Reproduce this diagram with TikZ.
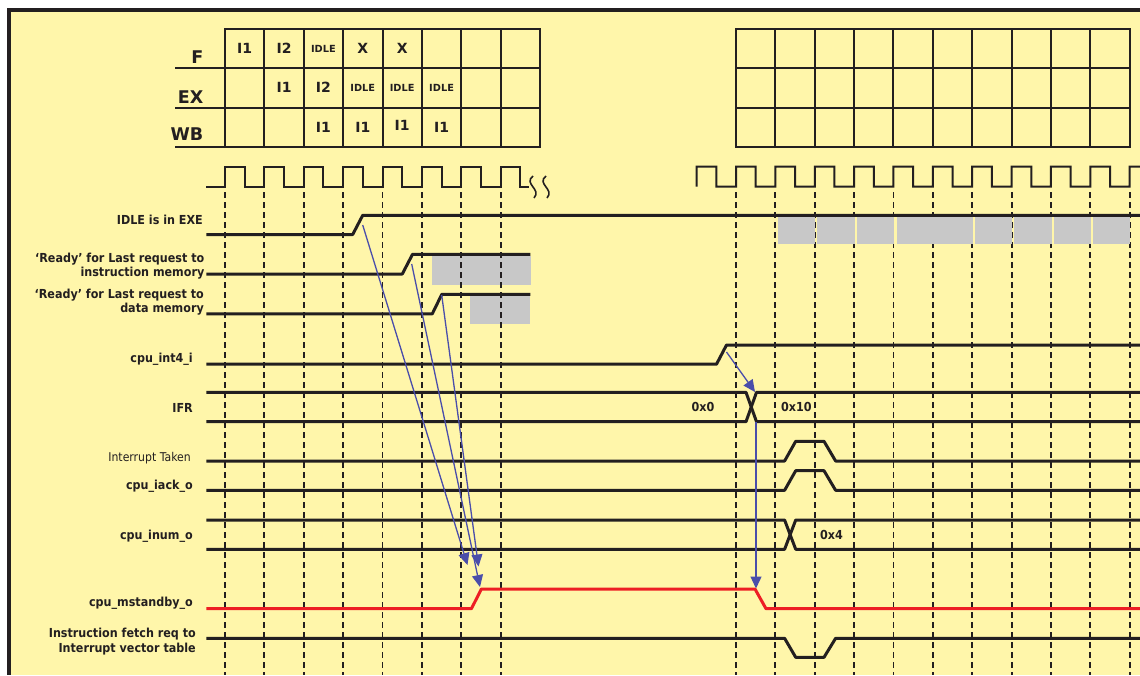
\documentclass[tikz,border=0pt]{standalone}
\usepackage{fontspec}
\setmainfont{DejaVu Sans}
\newfontfamily\lblfont[FakeStretch=0.9]{DejaVu Sans}
\usetikzlibrary{arrows.meta}
\definecolor{bg}{RGB}{255,246,170}
\definecolor{ink}{RGB}{35,31,32}
\definecolor{cueblue}{RGB}{74,78,170}
\definecolor{sigred}{RGB}{237,30,36}
\definecolor{shade}{RGB}{200,200,200}
\begin{document}
\begin{tikzpicture}[x=1pt,y=-1pt,
  sig/.style={draw=ink,line width=3pt,line join=round},
  redsig/.style={draw=sigred,line width=3pt,line join=round},
  gridln/.style={draw=ink,line width=2pt,line cap=rect},
  clk/.style={draw=ink,line width=2pt},
  tick/.style={draw=ink,line width=1.8pt,dash pattern=on 6pt off 4pt},
  lbl/.style={anchor=east,inner sep=0pt,align=right,text=ink,font=\lblfont\bfseries\fontsize{12.4}{14.5}\selectfont},
  thinlbl/.style={anchor=east,inner sep=0pt,align=right,text=ink,font=\lblfont\fontsize{12.1}{14.5}\selectfont},
  rowlbl/.style={anchor=east,inner sep=0pt,text=ink,font=\bfseries\fontsize{17.5}{18}\selectfont},
  cell/.style={inner sep=0pt,text=ink,font=\bfseries\fontsize{14}{14}\selectfont},
  smallcell/.style={inner sep=0pt,text=ink,font=\bfseries\fontsize{9.8}{10}\selectfont},
  val/.style={inner sep=0pt,text=ink,font=\lblfont\bfseries\fontsize{12.4}{13}\selectfont},
  cue/.style={draw=cueblue,line width=1.3pt,-{Triangle[length=12pt,width=11pt]}},
  shadebox/.style={fill=shade}]
\useasboundingbox (0,0) rectangle (1140,675);
% background and frame
\fill[white] (0,0) rectangle (1140,675);
\fill[bg] (9,9.7) rectangle (1140,675);
\draw[draw=ink,line width=4pt] (1140,9.7) -- (9,9.7) -- (9,675);

% grey blocks (left, under the ticks)
\fill[shadebox] (432.3,255.8) rectangle (531,285);
\fill[shadebox] (470,295.8) rectangle (530.4,324);

% dashed time ticks
\foreach \i in {0,...,7} \draw[tick] ({225+39.375*\i},192) -- ({225+39.375*\i},675);
\foreach \i in {0,...,10} \draw[tick] ({736+39.37*\i},192) -- ({736+39.37*\i},675);

% grey blocks (right, over the ticks)
\foreach \a/\b in {777.9/815.3,817.1/854.9,856.5/894.1,897/972.5,974.5/1011.7,1014/1051.5,1053.5/1090.9,1092.5/1129.7}
  \fill[shadebox] (\a,216.8) rectangle (\b,244.3);

% pipeline grid left
\foreach \i in {0,...,8} \draw[gridln] ({225+39.375*\i},29) -- ({225+39.375*\i},147);
\draw[gridln] (225,29) -- (540,29);
\foreach \y in {68.3,107.7,147} \draw[gridln] (176,\y) -- (540,\y);
% pipeline grid right
\foreach \i in {0,...,10} \draw[gridln] ({736+39.37*\i},29) -- ({736+39.37*\i},147);
\foreach \y in {29,68.3,107.7,147} \draw[gridln] (736,\y) -- (1129.7,\y);

% row labels
\node[rowlbl] (rowF) at (203.5,56.7) {F};
\node[rowlbl] (rowEX) at (203.5,96.7) {EX};
\node[rowlbl] (rowWB) at (203.5,134) {WB};

% cell contents
\node[cell] (f1) at (244.7,48.6) {I1};
\node[cell] (f2) at (284.1,48.6) {I2};
\node[smallcell] (f3) at (323.4,48.6) {IDLE};
\node[cell] (f4) at (362.8,48.6) {X};
\node[cell] (f5) at (402.2,48.6) {X};
\node[cell] (e2) at (284.1,87.8) {I1};
\node[cell] (e3) at (323.4,87.8) {I2};
\node[smallcell] (e4) at (362.8,87.8) {IDLE};
\node[smallcell] (e5) at (402.2,87.8) {IDLE};
\node[smallcell] (e6) at (441.6,87.8) {IDLE};
\node[cell] (w3) at (323.4,127) {I1};
\node[cell] (w4) at (362.8,127) {I1};
\node[cell] (w5) at (402.2,125.5) {I1};
\node[cell] (w6) at (441.6,127) {I1};

% clocks
\draw[clk] (206.4,186.7) \foreach \i in {0,...,7} { -- ({225+39.375*\i},186.7) -- ({225+39.375*\i},166.7) -- ({244.7+39.375*\i},166.7) -- ({244.7+39.375*\i},186.7) } -- (528.5,186.7);
\draw[clk,line width=1.6pt] (533,176) .. controls (523,184) and (542,189) .. (534,198);
\draw[clk,line width=1.6pt] (546,176) .. controls (536,184) and (555,189) .. (547,198);
\draw[clk] (696.63,186.7) \foreach \i in {-1,...,9} { -- ({736+39.37*\i},166.7) -- ({755.7+39.37*\i},166.7) -- ({755.7+39.37*\i},186.7) -- ({775.37+39.37*\i},186.7) } -- (1129.7,166.7) -- (1140,166.7);

% signals
\draw[sig] (206.4,234.5) -- (352.7,234.5) -- (362.7,215.3) -- (1140,215.3);
\draw[sig] (206.4,274) -- (402.3,274) -- (412.5,254.3) -- (530.4,254.3);
\draw[sig] (206.4,313.8) -- (432.3,313.8) -- (441.8,294.3) -- (530.4,294.3);
\draw[sig] (206.4,364.2) -- (716.5,364.2) -- (726.5,345) -- (1140,345);
\draw[sig] (206.4,392.3) -- (746,392.3) -- (756.5,421.7) -- (1140,421.7);
\draw[sig] (206.4,421.7) -- (746,421.7) -- (756.5,392.3) -- (1140,392.3);
\draw[sig] (206.4,461) -- (784.6,461) -- (795.7,441.3) -- (824,441.3) -- (835.6,461) -- (1140,461);
\draw[sig] (206.4,490.3) -- (784.6,490.3) -- (795.7,470.7) -- (824,470.7) -- (835.6,490.3) -- (1140,490.3);
\draw[sig] (206.4,520) -- (784.6,520) -- (795.7,549.3) -- (1140,549.3);
\draw[sig] (206.4,549.3) -- (784.6,549.3) -- (795.7,520) -- (1140,520);
\draw[redsig] (206.4,608.7) -- (471.4,608.7) -- (481.4,589) -- (755,589) -- (766,608.7) -- (1140,608.7);
\draw[sig] (206.4,638.3) -- (784.6,638.3) -- (795.7,657.3) -- (824,657.3) -- (835.6,638.3) -- (1140,638.3);

% signal labels
\node[lbl] (lidle) at (203,220) {IDLE is in EXE};
\node[lbl] (linstr) at (204.5,266.2) {‘Ready’ for Last request to\\instruction memory};
\node[lbl] (ldata) at (204,302.2) {‘Ready’ for Last request to\\data memory};
\node[lbl] (lint) at (193,359) {cpu\_int4\_i};
\node[lbl] (lifr) at (193,408) {IFR};
\node[thinlbl] (ltaken) at (191,457.7) {Interrupt Taken};
\node[lbl] (liack) at (193,486.7) {cpu\_iack\_o};
\node[lbl] (linum) at (193,536) {cpu\_inum\_o};
\node[lbl] (lstby) at (193,603.3) {cpu\_mstandby\_o};
\node[lbl] (lfetch) at (196,641.8) {Instruction fetch req to\\Interrupt vector table};

% bus values
\node[val] (v0) at (703,407) {0x0};
\node[val,anchor=west] (v10) at (781,407) {0x10};
\node[val,anchor=west] (v4) at (820,535) {0x4};

% cause arrows
\coordinate (idleEdge) at (362.7,225);
\coordinate (instrEdge) at (411.7,264);
\coordinate (dataEdge) at (441.7,295);
\coordinate (intEdge) at (726.5,352);
\coordinate (ifrEdge) at (756,422);
\coordinate (tipA) at (467.5,565);
\coordinate (tipB) at (480,587);
\coordinate (tipC) at (478.5,566.5);
\coordinate (tipD) at (755,392);
\coordinate (tipE) at (756,588.5);
\draw[cue] (idleEdge) -- (tipA);
\draw[cue] (instrEdge) -- (tipB);
\draw[cue] (dataEdge) -- (tipC);
\draw[cue] (intEdge) -- (tipD);
\draw[cue] (ifrEdge) -- (tipE);
\end{tikzpicture}
\end{document}
